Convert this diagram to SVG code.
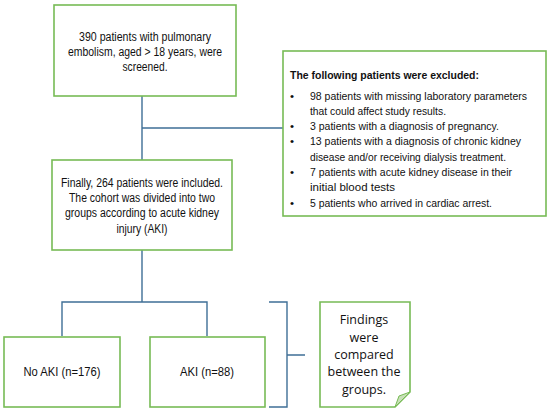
<svg xmlns="http://www.w3.org/2000/svg" width="550" height="413" viewBox="0 0 550 413">
<style>
.box{fill:#fff;stroke:#77bb55;stroke-width:1.6}
.con{fill:none;stroke:#3f6f96;stroke-width:1.4}
.t{font-family:"Liberation Sans",Arial,sans-serif;font-size:12px;fill:#111;text-anchor:middle}
.l{font-family:"Liberation Sans",Arial,sans-serif;font-size:11.5px;fill:#111}
.b{font-weight:bold}
.n{font-family:"Open Sans","DejaVu Sans",sans-serif;font-size:12.5px;fill:#111;text-anchor:middle}
</style>
<rect width="550" height="413" fill="#fff"/>
<g id="connectors">
<path class="con" d="M142,96V160M142,128H283"/>
<path class="con" d="M142,250V302M62,336V302H207V336"/>
<path class="con" d="M269,302H287V407H269M287,355H305"/>
</g>
<g id="screened">
<rect class="box" x="54" y="5" width="182" height="91"/>
<text class="t" x="145" y="41" textLength="132" lengthAdjust="spacingAndGlyphs">390 patients with pulmonary</text>
<text class="t" x="145" y="56" textLength="154" lengthAdjust="spacingAndGlyphs">embolism, aged &gt; 18 years, were</text>
<text class="t" x="145" y="71" textLength="45" lengthAdjust="spacingAndGlyphs">screened.</text>
</g>
<g id="excluded">
<rect class="box" x="283" y="51" width="263" height="165"/>
<text class="l b" x="290" y="79" textLength="189" lengthAdjust="spacingAndGlyphs">The following patients were excluded:</text>
<text class="l" x="290" y="100">•</text>
<text class="l" x="310" y="100" style="font-size:11px" textLength="217" lengthAdjust="spacingAndGlyphs">98 patients with missing laboratory parameters</text>
<text class="l" x="310" y="115" textLength="136" lengthAdjust="spacingAndGlyphs">that could affect study results.</text>
<text class="l" x="290" y="130">•</text>
<text class="l" x="310" y="130" textLength="189" lengthAdjust="spacingAndGlyphs">3 patients with a diagnosis of pregnancy.</text>
<text class="l" x="290" y="145">•</text>
<text class="l" x="310" y="145" textLength="211" lengthAdjust="spacingAndGlyphs">13 patients with a diagnosis of chronic kidney</text>
<text class="l" x="310" y="161" textLength="196" lengthAdjust="spacingAndGlyphs">disease and/or receiving dialysis treatment.</text>
<text class="l" x="290" y="176">•</text>
<text class="l" x="310" y="176" textLength="202" lengthAdjust="spacingAndGlyphs">7 patients with acute kidney disease in their</text>
<text class="l" x="310" y="191">initial blood tests</text>
<text class="l" x="290" y="207">•</text>
<text class="l" x="310" y="207" textLength="182" lengthAdjust="spacingAndGlyphs">5 patients who arrived in cardiac arrest.</text>
</g>
<g id="included">
<rect class="box" x="52" y="160" width="180" height="90"/>
<text class="t" x="142" y="187" textLength="162" lengthAdjust="spacingAndGlyphs">Finally, 264 patients were included.</text>
<text class="t" x="142" y="202" textLength="146" lengthAdjust="spacingAndGlyphs">The cohort was divided into two</text>
<text class="t" x="142" y="217" textLength="154" lengthAdjust="spacingAndGlyphs">groups according to acute kidney</text>
<text class="t" x="142" y="233" textLength="51" lengthAdjust="spacingAndGlyphs">injury (AKI)</text>
</g>
<g id="noaki">
<rect class="box" x="4" y="337" width="116" height="70"/>
<text class="t" x="62" y="376" textLength="77" lengthAdjust="spacingAndGlyphs">No AKI (n=176)</text>
</g>
<g id="aki">
<rect class="box" x="150" y="337" width="115" height="70"/>
<text class="t" x="207" y="376" textLength="54" lengthAdjust="spacingAndGlyphs">AKI (n=88)</text>
</g>
<g id="findings">
<path class="box" d="M320,302H410V392L395,407H320Z"/>
<path d="M395,407L410,392L399,396Z" fill="#c8e0b8" stroke="#77bb55" stroke-width="1"/>
<text class="n" x="364" y="324">Findings</text>
<text class="n" x="364" y="342">were</text>
<text class="n" x="364" y="359">compared</text>
<text class="n" x="364" y="376">between the</text>
<text class="n" x="364" y="394">groups.</text>
</g>
</svg>
